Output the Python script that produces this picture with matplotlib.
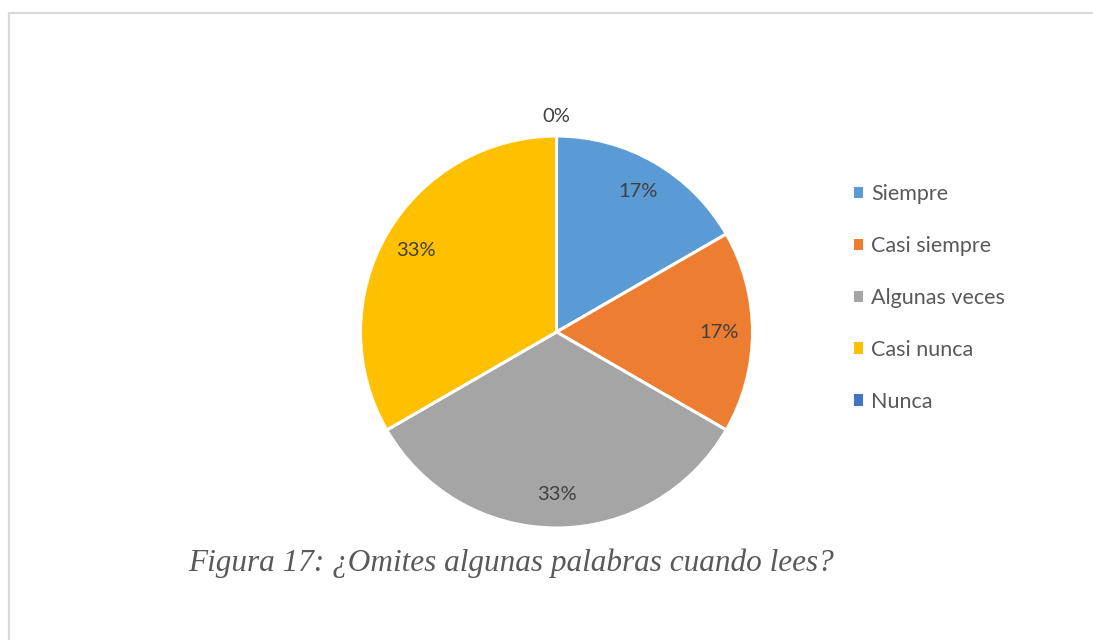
import matplotlib
matplotlib.use("Agg")
import matplotlib.pyplot as plt
from matplotlib.lines import Line2D

categories = ["Siempre", "Casi siempre", "Algunas veces", "Casi nunca", "Nunca"]
values = [1, 1, 2, 2, 0]
colors = ["#5B9BD5", "#ED7D31", "#A5A5A5", "#FFC000", "#4472C4"]
caption = "Figura 17: ¿Omites algunas palabras cuando lees?"

W, H = 1093, 640
fig = plt.figure(figsize=(W / 100, H / 100), dpi=100)
fig.patch.set_facecolor("white")

# frame lines (top and left)
fig.add_artist(Line2D([8.5 / W, 1.0], [1 - 13 / H, 1 - 13 / H], color="#D9D9D9", lw=1.6))
fig.add_artist(Line2D([8.5 / W, 8.5 / W], [0, 1 - 13 / H], color="#D9D9D9", lw=1.6))

cx, cy, r = 556.5, 332, 196
ax = fig.add_axes([(cx - r) / W, (H - cy - r) / H, 2 * r / W, 2 * r / H])
ax.set_xlim(-1, 1)
ax.set_ylim(-1, 1)
ax.axis("off")

font = "Lato"
wedges, texts, autotexts = ax.pie(
    values, colors=colors, startangle=90, counterclock=False, radius=1,
    wedgeprops=dict(edgecolor="white", linewidth=2.2),
    autopct=lambda p: f"{p:.0f}%", pctdistance=0.83,
    textprops=dict(fontsize=14.5, color="#404040", family=font),
)
ax.set_xlim(-1, 1)
ax.set_ylim(-1, 1)
for v, t in zip(values, autotexts):
    if v == 0:
        x, y = t.get_position()
        t.set_position((x / 0.83 * 1.10, y / 0.83 * 1.10))

leg = fig.legend(
    wedges, categories, loc="center left",
    bbox_to_anchor=(845 / W, 1 - 298 / H), frameon=False,
    prop=dict(family=font, size=15.5), labelcolor="#595959",
    handlelength=0.45, handleheight=0.45, handletextpad=0.35,
    labelspacing=1.48, borderaxespad=0,
)
for h in leg.legend_handles:
    h.set_edgecolor("none")

fig.text(511 / W, 1 - 563 / H, caption, ha="center", va="center",
         family="Liberation Serif", style="italic", fontsize=22.5, color="#595959")

fig.savefig("out.png", dpi=100)
